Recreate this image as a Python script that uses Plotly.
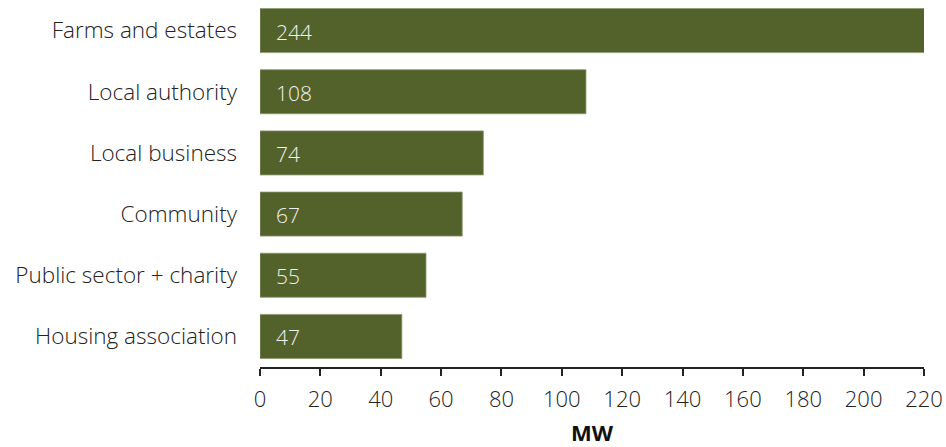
import plotly.graph_objects as go

categories = ["Farms and estates", "Local authority", "Local business", "Community",
              "Public sector + charity", "Housing association"]
values = [244, 108, 74, 67, 55, 47]
tick_vals = [0, 20, 40, 60, 80, 100, 120, 140, 160, 180, 200, 220]

bar_color = "#52622a"
font_family = "Open Sans"

fig = go.Figure()
fig.add_trace(go.Bar(
    y=categories, x=values, orientation="h",
    marker=dict(color=bar_color, line=dict(color="#8c9870", width=0.8)),
    width=0.72, hoverinfo="skip",
))

for c, v in zip(categories, values):
    fig.add_annotation(x=0, y=c, text=str(v), showarrow=False, xanchor="left",
                       xshift=14, yshift=-1,
                       font=dict(family=font_family, size=21, color="#f0f0f0", weight=300))

fig.update_layout(
    width=946, height=447,
    margin=dict(l=260, r=22, t=0, b=80),
    paper_bgcolor="white", plot_bgcolor="white",
    showlegend=False,
    font=dict(family=font_family, size=22, color="#222222", weight=300),
    xaxis=dict(range=[0, 220], tickvals=tick_vals, showgrid=False, zeroline=False,
               showline=True, linecolor="#222222", linewidth=2,
               ticks="outside", ticklen=7, tickwidth=2, tickcolor="#222222",
               ticklabelstandoff=5,
               tickfont=dict(size=22, color="#222222", weight=300),
               title=dict(text="<b>MW</b>", font=dict(size=22, color="#111111", weight=700),
                          standoff=14)),
    yaxis=dict(autorange="reversed", showgrid=False, zeroline=False, showline=False,
               ticks="", ticklabelstandoff=22,
               tickfont=dict(size=22.5, color="#222222", weight=300)),
)

fig.write_html("out.html")
